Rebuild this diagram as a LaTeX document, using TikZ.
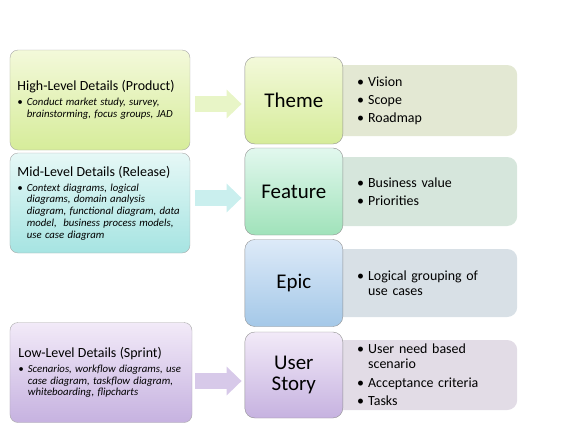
\documentclass[tikz,border=0pt]{standalone}
\usepackage{fontspec}
\setmainfont{Carlito}
\usetikzlibrary{positioning,arrows.meta}

\definecolor{hightop}{HTML}{F3F9DA}
\definecolor{highbot}{HTML}{D6EC9A}
\definecolor{midtop}{HTML}{E6F8F6}
\definecolor{midbot}{HTML}{A6E4E2}
\definecolor{lowtop}{HTML}{F2EAF8}
\definecolor{lowbot}{HTML}{C6B2E0}
\definecolor{featop}{HTML}{E2F8EE}
\definecolor{feabot}{HTML}{A0E2BA}
\definecolor{epictop}{HTML}{DDEAF8}
\definecolor{epicbot}{HTML}{A4C8E8}
\definecolor{themeinfo}{HTML}{E3E8D3}
\definecolor{featinfo}{HTML}{D6E6DC}
\definecolor{epicinfo}{HTML}{D8E0E6}
\definecolor{storyinfo}{HTML}{E2DCE6}
\definecolor{levelline}{HTML}{A8A8A8}
\definecolor{itemline}{HTML}{909090}

\newcommand{\itm}{\textbullet\hspace{4bp}}
\newcommand{\ind}{\hphantom{\textbullet\hspace{4bp}}}
\newcommand{\titlefont}{\fontsize{14}{16}\selectfont}
\newcommand{\notefont}{\fontsize{10.8}{11.8}\selectfont\itshape}

\tikzset{
    levelbox/.style = {draw=levelline, rounded corners=8bp, minimum width=180bp,
        minimum height=100bp, text width=165bp, inner xsep=7.5bp, align=left},
    itembox/.style = {draw=itemline, rounded corners=10bp, minimum width=98bp,
        minimum height=87bp, align=center, font=\fontsize{21}{22}\selectfont},
    detailbox/.style = {rounded corners=10bp, minimum width=184bp, text width=136bp,
        inner xsep=24bp, align=left, font=\fontsize{14}{15}\selectfont},
    flow/.style = {line width=16bp, -{Triangle[length=15bp,width=28bp]},
        shorten <=5bp, shorten >=3bp}
}

\begin{document}
\begin{tikzpicture}[x=1bp, y=-1bp]
    \useasboundingbox (0,0) rectangle (564,423);

    % left column
    \node [levelbox, top color=hightop, bottom color=highbot] (high) at (100,100)
        {{\titlefont High-Level Details (Product)\par}\vspace{3bp}
         {\notefont\itm Conduct market study, survey,\\
          \ind brainstorming, focus groups, JAD\par}};
    \node [levelbox, top color=midtop, bottom color=midbot] (mid) at (100,203)
        {{\titlefont Mid-Level Details (Release)\par}\vspace{3bp}
         {\notefont\itm Context diagrams, logical\\
          \ind diagrams, domain analysis\\
          \ind diagram, functional diagram, data\\
          \ind model,\ \ business process models,\\
          \ind use case diagram\par}};
    \node [levelbox, top color=lowtop, bottom color=lowbot, minimum width=182bp] (low) at (101,372.5)
        {{\titlefont Low-Level Details (Sprint)\par}\vspace{3bp}
         {\notefont\itm Scenarios, workflow diagrams, use\\
          \ind case diagram, taskflow diagram,\\
          \ind whiteboarding, flipcharts\par}};

    % right column
    \node [detailbox, fill=themeinfo, minimum height=71bp, anchor=west] (themedet) at (333,100.5)
        {\itm Vision\\[3bp] \itm Scope\\[3bp] \itm Roadmap};
    \node [detailbox, fill=featinfo, minimum height=69bp, anchor=west] (featdet) at (333,191.5)
        {\itm Business value\\[3bp] \itm Priorities};
    \node [detailbox, fill=epicinfo, minimum height=68bp, anchor=west] (epicdet) at (333,283)
        {\itm Logical grouping of\\ \ind use cases};
    \node [detailbox, fill=storyinfo, minimum height=70bp, anchor=west] (storydet) at (333,375)
        {\itm User need based\\ \ind scenario\\[3.5bp] \itm Acceptance criteria\\[3.5bp] \itm Tasks};

    % middle column
    \node [itembox, top color=hightop, bottom color=highbot, anchor=east] (theme)
        at ([xshift=10bp]themedet.west) {Theme};
    \node [itembox, top color=featop, bottom color=feabot, anchor=east] (feature)
        at ([xshift=10bp]featdet.west) {Feature};
    \node [itembox, top color=epictop, bottom color=epicbot, anchor=east] (epic)
        at ([xshift=10bp]epicdet.west) {Epic};
    \node [itembox, top color=lowtop, bottom color=lowbot, anchor=east, minimum height=86bp] (story)
        at ([xshift=10bp]storydet.west) {User\\Story};

    % arrows
    \draw [flow, draw=highbot!55] ([yshift=-4bp]high.east) -- ([yshift=-4bp]high.east -| theme.west);
    \draw [flow, draw=midbot!60] ([yshift=5bp]mid.east) -- ([yshift=5bp]mid.east -| feature.west);
    \draw [flow, draw=lowbot!70, shorten <=3bp] ([yshift=-8.5bp]low.east) -- ([yshift=-8.5bp]low.east -| story.west);
\end{tikzpicture}
\end{document}
